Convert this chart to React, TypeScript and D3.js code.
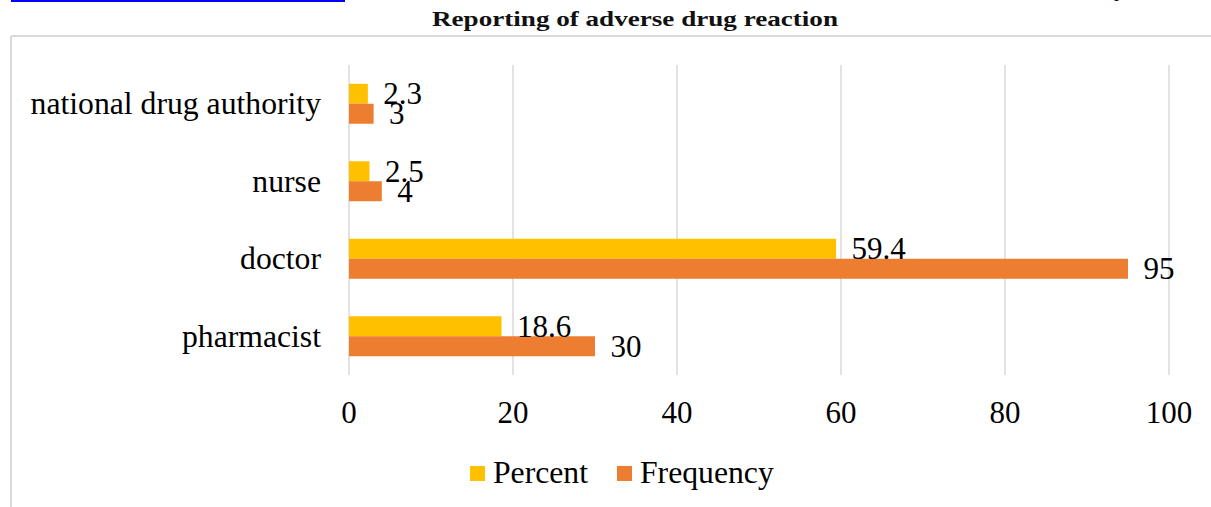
import React from "react";
import * as d3 from "d3";

// Reporting channels for adverse drug reactions
const categories = ["national drug authority", "nurse", "doctor", "pharmacist"];
const seriesNames = ["Percent", "Frequency"];
const percentValues = [2.3, 2.5, 59.4, 18.6];
const frequencyValues = [3, 4, 95, 30];
const xTicks = [0, 20, 40, 60, 80, 100];

const COLORS: Record<string, string> = { Percent: "#FFC000", Frequency: "#ED7D31" };
const GRID = "#D9D9D9";
const SERIF = "'Liberation Serif', 'Times New Roman', serif";

const W = 1211;
const H = 507;

export default function App() {
  const x = d3.scaleLinear().domain([0, 100]).range([349, 1169]);
  const y = d3
    .scaleBand<string>()
    .domain(categories)
    .range([65, 375])
    .paddingInner(0.484)
    .paddingOuter(0.242);
  const inner = d3.scaleBand<string>().domain(seriesNames).range([0, y.bandwidth()]);

  const rows = categories.map((c, i) => ({
    category: c,
    values: [
      { series: "Percent", value: percentValues[i] },
      { series: "Frequency", value: frequencyValues[i] },
    ],
  }));

  const legend = [
    { name: "Percent", sx: 470, tx: 493 },
    { name: "Frequency", sx: 617, tx: 640 },
  ];

  return (
    <svg
      width={W}
      height={H}
      style={{ position: "absolute", left: 0, top: 0, background: "#fff" }}
      fontFamily={SERIF}
    >
      {/* page link running above the figure */}
      <text
        x={11}
        y={-4}
        fontSize={20}
        fill="#0000FF"
        textLength={334}
        lengthAdjust="spacingAndGlyphs"
      >
        https://www.pharmacyjournal.org
      </text>
      <rect x={11} y={0} width={334} height={2} fill="#0000FF" />
      <text x={1114} y={-4} fontSize={20} fill="#000">
        p
      </text>

      {/* title */}
      <text
        x={432}
        y={26}
        fontSize={21.5}
        fontWeight="bold"
        fill="#111"
        textLength={406}
        lengthAdjust="spacingAndGlyphs"
      >
        Reporting of adverse drug reaction
      </text>

      {/* chart frame */}
      <line x1={11} x2={W} y1={36} y2={36} stroke={GRID} strokeWidth={2} />
      <line x1={11} x2={11} y1={36} y2={H} stroke={GRID} strokeWidth={2} />

      {/* vertical gridlines */}
      {xTicks.map((t) => (
        <line
          key={t}
          x1={x(t)}
          x2={x(t)}
          y1={65}
          y2={375}
          stroke={GRID}
          strokeWidth={1.5}
        />
      ))}

      {/* bars */}
      {rows.map((r) =>
        r.values.map((v) => (
          <rect
            key={r.category + v.series}
            x={x(0)}
            y={(y(r.category) as number) + (inner(v.series) as number)}
            width={x(v.value) - x(0)}
            height={inner.bandwidth()}
            fill={COLORS[v.series]}
          />
        ))
      )}

      {/* data labels */}
      {rows.map((r) =>
        r.values.map((v) => (
          <text
            key={"l" + r.category + v.series}
            x={x(v.value) + 15.5}
            y={(y(r.category) as number) + (inner(v.series) as number) + inner.bandwidth() / 2 + 10.5}
            fontSize={31}
            fill="#000"
          >
            {v.value}
          </text>
        ))
      )}

      {/* category labels */}
      {categories.map((c) => (
        <text
          key={c}
          x={321}
          y={(y(c) as number) + y.bandwidth() / 2 + 10.5}
          fontSize={31.7}
          textAnchor="end"
          fill="#000"
        >
          {c}
        </text>
      ))}

      {/* x axis tick labels */}
      {xTicks.map((t) => (
        <text key={"t" + t} x={x(t)} y={423} fontSize={31} textAnchor="middle" fill="#000">
          {t}
        </text>
      ))}

      {/* legend */}
      {legend.map((l) => (
        <g key={l.name}>
          <rect x={l.sx} y={466} width={15} height={15} fill={COLORS[l.name]} />
          <text x={l.tx} y={483} fontSize={31.7} fill="#000">
            {l.name}
          </text>
        </g>
      ))}
    </svg>
  );
}
